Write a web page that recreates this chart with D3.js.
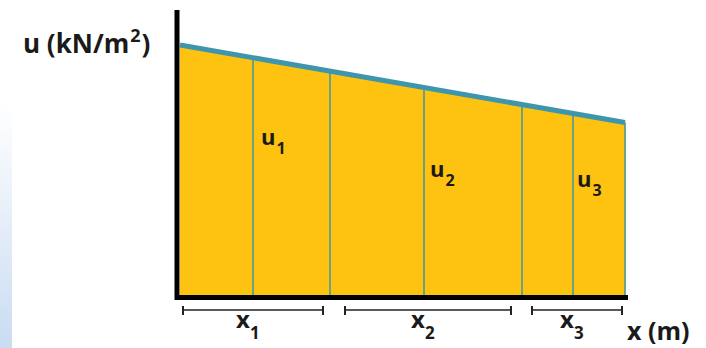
<!DOCTYPE html>
<html lang="en">
<head>
    <meta charset="UTF-8">
    <title>Pore pressure strips</title>
    <script src="https://d3js.org/d3.v7.min.js"></script>
    <style>
        body { margin: 0; background: #fff; }
        .lbl { font-family: "Open Sans", sans-serif; font-weight: 700; fill: #1a1a1a; }
    </style>
</head>
<body>
    <svg id="chart"></svg>
    <script>
        const width = 706;
        const height = 348;

        // strip boundaries along x (m)
        const xBreaks = [0, 1.46, 3.0, 4.88, 6.84, 7.86, 8.9];
        // u at left and right end (kN/m2)
        const uEnds = [100, 69];
        // dimension brackets (m)
        const spanStart = [0.06, 3.3, 7.04];
        const spanEnd = [2.86, 6.62, 8.84];
        const spanNames = ['1', '2', '3'];
        // u labels: position in x (m) and u
        const uLabelX = [1.62, 5.0, 7.94];
        const uLabelU = [60, 47.2, 43.2];

        const svg = d3.select('#chart')
            .attr('width', width)
            .attr('height', height);

        const x = d3.scaleLinear().domain([0, 8.9]).range([180, 625]);
        const y = d3.scaleLinear().domain([0, 114]).range([295, 10]);
        const uAt = d3.scaleLinear().domain([0, 8.9]).range(uEnds);

        // light blue strip on the left edge
        const defs = svg.append('defs');
        const grad = defs.append('linearGradient')
            .attr('id', 'edge').attr('x1', 0).attr('y1', 0).attr('x2', 0).attr('y2', 1);
        grad.append('stop').attr('offset', '0.3').attr('stop-color', '#ffffff');
        grad.append('stop').attr('offset', '1').attr('stop-color', '#c9dcf2');
        svg.append('rect').attr('x', 0).attr('y', 0).attr('width', 12).attr('height', height)
            .attr('fill', 'url(#edge)');

        // filled strips
        const strips = d3.pairs(xBreaks);
        const area = d3.area()
            .x(d => x(d))
            .y0(y(0))
            .y1(d => y(uAt(d)));

        svg.selectAll('.strip')
            .data(strips)
            .enter().append('path')
            .attr('class', 'strip')
            .attr('d', d => area(d))
            .attr('fill', '#fec210');

        // dividers
        svg.selectAll('.div')
            .data(xBreaks.slice(1))
            .enter().append('line')
            .attr('x1', d => x(d)).attr('x2', d => x(d))
            .attr('y1', d => y(uAt(d))).attr('y2', y(0))
            .attr('stroke', '#5f9e8a')
            .attr('stroke-width', 1.8);

        // top line
        svg.append('line')
            .attr('x1', x(0)).attr('y1', y(uEnds[0]))
            .attr('x2', x(8.9)).attr('y2', y(uEnds[1]))
            .attr('stroke', '#3d96ad')
            .attr('stroke-width', 5);

        // axes
        svg.append('line')
            .attr('x1', 177).attr('x2', 177).attr('y1', y(114)).attr('y2', 300)
            .attr('stroke', '#000').attr('stroke-width', 5);
        svg.append('line')
            .attr('x1', 175).attr('x2', 628).attr('y1', 297.5).attr('y2', 297.5)
            .attr('stroke', '#000').attr('stroke-width', 5);

        // brackets
        const by = 310;
        spanStart.forEach((s, i) => {
            const g = svg.append('g').attr('stroke', '#222');
            g.append('line').attr('x1', x(s)).attr('x2', x(spanEnd[i])).attr('y1', by).attr('y2', by).attr('stroke-width', 1.5);
            g.append('line').attr('x1', x(s)).attr('x2', x(s)).attr('y1', by - 4).attr('y2', by + 5).attr('stroke-width', 2);
            g.append('line').attr('x1', x(spanEnd[i])).attr('x2', x(spanEnd[i])).attr('y1', by - 4).attr('y2', by + 5).attr('stroke-width', 2);

            const t = svg.append('text').attr('class', 'lbl')
                .attr('x', (x(s) + x(spanEnd[i])) / 2 - 17)
                .attr('y', 328)
                .attr('font-size', 24);
            t.append('tspan').text('x');
            t.append('tspan').attr('font-size', 17).attr('dy', 11).attr('dx', 0).text(spanNames[i]);
        });

        // u labels
        uLabelX.forEach((d, i) => {
            const t = svg.append('text').attr('class', 'lbl')
                .attr('x', x(d))
                .attr('y', y(uLabelU[i]))
                .attr('font-size', 22);
            t.append('tspan').text('u');
            t.append('tspan').attr('font-size', 16).attr('dy', 9).attr('dx', 1).text(spanNames[i]);
        });

        // axis titles
        const yt = svg.append('text').attr('class', 'lbl')
            .attr('x', 23).attr('y', 53).attr('font-size', 26);
        yt.append('tspan').text('u (kN/m');
        yt.append('tspan').attr('font-size', 18).attr('dy', -11).attr('dx', 1).text('2');
        yt.append('tspan').attr('dy', 11).attr('dx', 1).text(')');

        svg.append('text').attr('class', 'lbl')
            .attr('x', 627).attr('y', 340).attr('font-size', 25)
            .text('x (m)');
    </script>
</body>
</html>
